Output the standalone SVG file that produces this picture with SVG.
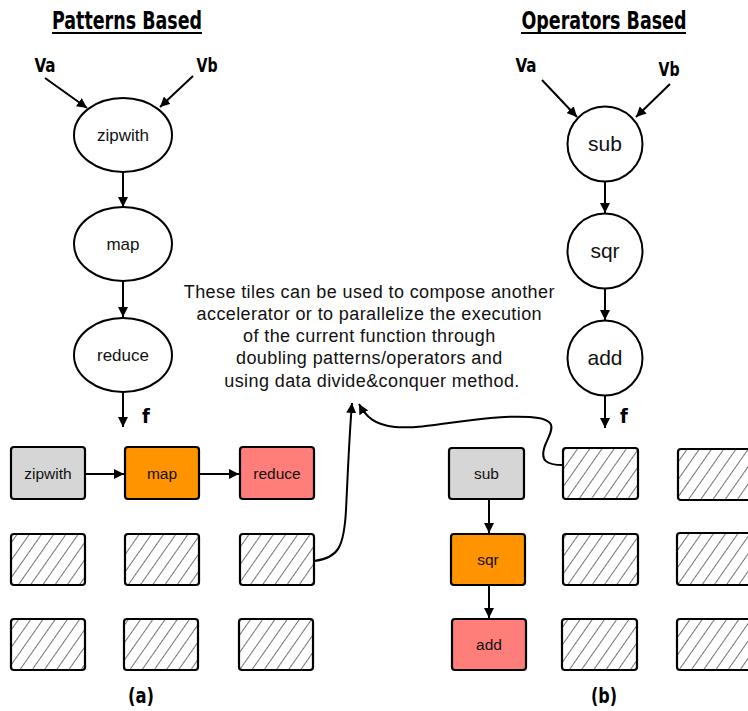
<svg xmlns="http://www.w3.org/2000/svg" width="748" height="711" viewBox="0 0 748 711">
<defs>
<marker id="ah" viewBox="0 0 10 10" refX="10" refY="5" markerWidth="10" markerHeight="10" markerUnits="userSpaceOnUse" orient="auto">
<path d="M0,0 L10,5 L0,10 Z" fill="#000"/>
</marker>
<pattern id="hatch" patternUnits="userSpaceOnUse" width="10" height="10" patternTransform="rotate(35)">
<line x1="0" y1="-2" x2="0" y2="12" stroke="#000" stroke-width="1.1"/>
</pattern>
<style>
.t{font-family:"Liberation Sans Narrow","DejaVu Sans Condensed","Liberation Sans",sans-serif;font-weight:bold;fill:#000}
.lbl{font-family:"Liberation Sans",Arial,sans-serif;fill:#111;text-anchor:middle}
.node{fill:#fff;stroke:#000;stroke-width:2}
.box{stroke:#000;stroke-width:2.2}
.hat{fill:url(#hatch);stroke:#000;stroke-width:2.2}
.c{fill:none;stroke:#000;stroke-width:2;marker-end:url(#ah)}
</style>
</defs>
<rect width="748" height="711" fill="#fff"/>

<!-- titles -->
<g id="title-a">
<text class="t" x="127" y="29" font-size="25" text-anchor="middle" textLength="150" lengthAdjust="spacingAndGlyphs">Patterns Based</text>
<line x1="52" y1="33" x2="202" y2="33" stroke="#000" stroke-width="2"/>
</g>
<g id="title-b">
<text class="t" x="604" y="29" font-size="25" text-anchor="middle" textLength="165" lengthAdjust="spacingAndGlyphs">Operators Based</text>
<line x1="521" y1="33" x2="686" y2="33" stroke="#000" stroke-width="2"/>
</g>

<!-- left pipeline -->
<g id="va-a"><text class="t" x="45" y="72" font-size="20" text-anchor="middle" textLength="21" lengthAdjust="spacingAndGlyphs">Va</text></g>
<g id="vb-a"><text class="t" x="207" y="72" font-size="20" text-anchor="middle" textLength="21" lengthAdjust="spacingAndGlyphs">Vb</text></g>
<g id="n-zipwith"><ellipse class="node" cx="123" cy="135" rx="49" ry="37"/><text class="lbl" x="123" y="141" font-size="17">zipwith</text></g>
<g id="n-map"><ellipse class="node" cx="123" cy="244" rx="49" ry="37"/><text class="lbl" x="123" y="250" font-size="17">map</text></g>
<g id="n-reduce"><ellipse class="node" cx="123" cy="355" rx="49" ry="37"/><text class="lbl" x="123" y="361" font-size="17">reduce</text></g>
<g id="f-a"><text class="t" x="146" y="423" font-size="20" text-anchor="middle">f</text></g>

<!-- right pipeline -->
<g id="va-b"><text class="t" x="526" y="72" font-size="20" text-anchor="middle" textLength="21" lengthAdjust="spacingAndGlyphs">Va</text></g>
<g id="vb-b"><text class="t" x="669" y="76" font-size="20" text-anchor="middle" textLength="21" lengthAdjust="spacingAndGlyphs">Vb</text></g>
<g id="n-sub"><circle class="node" cx="605" cy="144" r="37.5"/><text class="lbl" x="605" y="151" font-size="21">sub</text></g>
<g id="n-sqr"><circle class="node" cx="605" cy="251" r="37.5"/><text class="lbl" x="605" y="258" font-size="21">sqr</text></g>
<g id="n-add"><circle class="node" cx="605" cy="358" r="37.5"/><text class="lbl" x="605" y="365" font-size="21">add</text></g>
<g id="f-b"><text class="t" x="624" y="423" font-size="20" text-anchor="middle">f</text></g>

<!-- description -->
<g id="note">
<text class="lbl" font-size="18" letter-spacing="0.4" fill="#1a1a1a">
<tspan x="372" y="298">These tiles can be used to compose another</tspan>
<tspan x="372" y="320">accelerator or to parallelize the execution</tspan>
<tspan x="372" y="342">of the current function through</tspan>
<tspan x="372" y="364">doubling patterns/operators and</tspan>
<tspan x="372" y="387">using data divide&amp;conquer method.</tspan>
</text>
</g>

<!-- left grid -->
<g id="b-zipwith"><rect class="box" x="11" y="447" width="74" height="52" rx="3" fill="#d6d6d6"/><text class="lbl" x="48" y="479" font-size="15.5">zipwith</text></g>
<g id="b-map"><rect class="box" x="125" y="447" width="74" height="52" rx="3" fill="#ff9300"/><text class="lbl" x="162" y="479" font-size="15.5">map</text></g>
<g id="b-reduce"><rect class="box" x="240" y="447" width="74" height="52" rx="3" fill="#ff7e79"/><text class="lbl" x="277" y="479" font-size="15.5">reduce</text></g>
<g id="t-a21"><rect class="hat" x="11" y="534" width="74" height="51" rx="3"/></g>
<g id="t-a22"><rect class="hat" x="125" y="534" width="74" height="51" rx="3"/></g>
<g id="t-a23"><rect class="hat" x="240" y="534" width="74" height="51" rx="3"/></g>
<g id="t-a31"><rect class="hat" x="11" y="619" width="74" height="51" rx="3"/></g>
<g id="t-a32"><rect class="hat" x="124" y="619" width="74" height="51" rx="3"/></g>
<g id="t-a33"><rect class="hat" x="239" y="619" width="74" height="51" rx="3"/></g>
<g id="lab-a"><text class="t" x="141" y="703" font-size="21" text-anchor="middle" textLength="26" lengthAdjust="spacingAndGlyphs">(a)</text></g>

<!-- right grid -->
<g id="b-sub"><rect class="box" x="449" y="448" width="75" height="51" rx="3" fill="#d6d6d6"/><text class="lbl" x="486.5" y="479" font-size="15.5">sub</text></g>
<g id="b-sqr"><rect class="box" x="451" y="534" width="74" height="51" rx="3" fill="#ff9300"/><text class="lbl" x="488" y="565" font-size="15.5">sqr</text></g>
<g id="b-add"><rect class="box" x="452" y="619" width="74" height="51" rx="3" fill="#ff7e79"/><text class="lbl" x="489" y="650" font-size="15.5">add</text></g>
<g id="t-b12"><rect class="hat" x="563" y="448" width="75" height="51" rx="3"/></g>
<g id="t-b13"><rect class="hat" x="678" y="449" width="75" height="51" rx="3"/></g>
<g id="t-b22"><rect class="hat" x="563" y="534" width="75" height="51" rx="3"/></g>
<g id="t-b23"><rect class="hat" x="677" y="533" width="75" height="52" rx="3"/></g>
<g id="t-b32"><rect class="hat" x="562" y="619" width="75" height="51" rx="3"/></g>
<g id="t-b33"><rect class="hat" x="677" y="619" width="75" height="51" rx="3"/></g>
<g id="lab-b"><text class="t" x="604" y="703" font-size="21" text-anchor="middle" textLength="26" lengthAdjust="spacingAndGlyphs">(b)</text></g>

<!-- connectors -->
<g id="connectors">
<line class="c" x1="45" y1="78" x2="87" y2="108"/>
<line class="c" x1="193" y1="76" x2="160" y2="107"/>
<line class="c" x1="123" y1="172" x2="123" y2="207"/>
<line class="c" x1="123" y1="281" x2="123" y2="317"/>
<line class="c" x1="123" y1="392" x2="123" y2="427"/>
<line class="c" x1="542" y1="80" x2="577" y2="117"/>
<line class="c" x1="670" y1="84" x2="636" y2="117"/>
<line class="c" x1="605" y1="182" x2="605" y2="213"/>
<line class="c" x1="605" y1="289" x2="605" y2="320"/>
<line class="c" x1="605" y1="396" x2="605" y2="428"/>
<line class="c" x1="85" y1="474" x2="124" y2="474"/>
<line class="c" x1="199" y1="474" x2="239" y2="474"/>
<line class="c" x1="489" y1="499" x2="489" y2="533"/>
<line class="c" x1="489" y1="585" x2="489" y2="618"/>
<path class="c" d="M314,561 C338,558 344,548 346,510 C348,470 349,440 352,403"/>
<path class="c" d="M563,465 C548,465 538,462 546,443 C553,428 558,419 530,417 C480,414 430,430 395,427 C375,425 366,417 359,404"/>
</g>
</svg>
